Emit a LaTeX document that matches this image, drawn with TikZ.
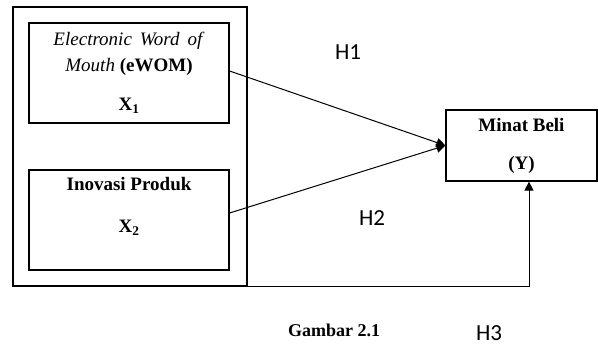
\documentclass[tikz,border=0pt]{standalone}
\usepackage{fontspec}
\setmainfont{Liberation Serif}
\newfontfamily\hfont{Carlito}
\usetikzlibrary{positioning, arrows.meta}

\begin{document}
\begin{tikzpicture}[
        x=1pt, y=-1pt,
        box/.style={rectangle, draw, line width=1.2pt, minimum width=200pt, minimum height=100pt, align=center, font=\fontsize{19}{22}\selectfont},
        hlabel/.style={font=\hfont\fontsize{23}{27}\selectfont},
        arrow/.style={-{Triangle[length=9pt, width=9pt]}, line width=1pt}
    ]
        \useasboundingbox (0,0) rectangle (598,347);

        % Nodes
        \node (outer) [rectangle, draw, line width=1.2pt, minimum width=234pt, minimum height=279pt] at (130,146.5) {};
        \node (ewom) [box] at (129,73) {\textit{Electronic\, Word\, of}\\[4pt] \textit{Mouth} \textbf{(eWOM)}\\[17pt] \textbf{X\textsubscript{1}}};
        \node (inovasi) [box] at (129,220) {\textbf{Inovasi Produk}\\[20pt] \textbf{X\textsubscript{2}}\\[8pt]};
        \node (minat) [box, minimum width=151pt, minimum height=71pt, inner sep=2pt] at (521.5,145.5) {\textbf{Minat Beli}\\[16pt] \textbf{(Y)}};

        % Labels
        \node (h1) [hlabel] at (348,52) {H1};
        \node (h2) [hlabel] at (372,218) {H2};
        \node (h3) [hlabel] at (489,333) {H3};
        \node (gambar) [font=\bfseries\fontsize{18}{21}\selectfont] at (334,330) {Gambar 2.1};

        % Arrows
        \draw [arrow] ([yshift=2pt]ewom.east) -- (minat.west);
        \draw [arrow] ([yshift=7pt]inovasi.east) -- (minat.west);
        \draw [arrow] (outer.south east) -| ([xshift=7.5pt]minat.south);
    \end{tikzpicture}
\end{document}
